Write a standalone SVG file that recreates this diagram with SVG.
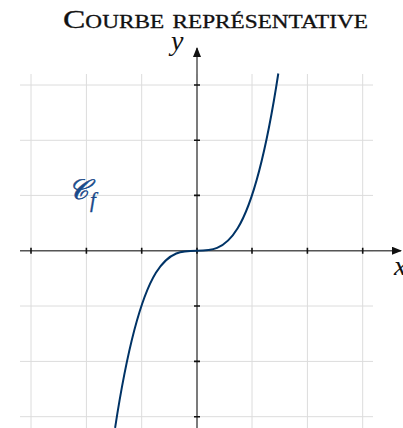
<svg xmlns="http://www.w3.org/2000/svg" width="403" height="428" viewBox="0 0 403 428">
<defs>
<style>
.grid{stroke:#dcdcdc;stroke-width:1;fill:none}
.axis{stroke:#555;stroke-width:1.5;fill:none}
.tick{stroke:#111;stroke-width:1.6}
.curve{stroke:#003366;stroke-width:2;fill:none}
</style>
<marker id="arr" markerWidth="10" markerHeight="8" refX="9" refY="4" orient="auto" markerUnits="userSpaceOnUse">
<path d="M0,0 L10,4 L0,8 Z" fill="#111"/>
</marker>
</defs>
<rect width="403" height="428" fill="#fff"/>
<g id="grid" class="grid">
<path d="M31,74V428M86.4,74V428M141.7,74V428M252,74V428M307.4,74V428M362.7,74V428M197,74V428"/>
<path d="M20,85H373M20,140.3H373M20,195.4H373M20,250.7H373M20,306H373M20,361.4H373M20,416.7H373"/>
</g>
<g id="axes">
<line class="axis" x1="20" y1="250.7" x2="401" y2="250.7" marker-end="url(#arr)"/>
<line class="axis" x1="197" y1="428" x2="197" y2="48" marker-end="url(#arr)"/>
<path class="tick" d="M31,247.7v6M86.4,247.7v6M141.7,247.7v6M197,247.7v6M252,247.7v6M307.4,247.7v6M362.7,247.7v6"/>
<path class="tick" d="M194,85h6M194,140.3h6M194,195.4h6M194,306h6M194,361.4h6M194,416.7h6"/>
</g>
<g id="curve">
<path class="curve" d="M115.1,427.9 C169.5,73.5 223.9,427.9 278.3,73.5"/>
</g>
<g id="labels" font-family="Liberation Serif, serif">
<text x="215.5" y="28" font-size="26" fill="#111" stroke="#111" stroke-width="0.3" text-anchor="middle" style="font-variant:small-caps" textLength="305" lengthAdjust="spacingAndGlyphs">Courbe représentative</text>
<text x="171" y="50" font-size="28" font-style="italic" fill="#111">y</text>
<text x="394" y="275" font-size="28" font-style="italic" fill="#111">x</text>
<text x="68" y="199" font-size="28" font-style="italic" fill="#1a4a8a" stroke="#1a4a8a" stroke-width="0.6">𝒞<tspan font-size="21" dx="2" dy="8" stroke-width="0.3">f</tspan></text>
</g>
</svg>
